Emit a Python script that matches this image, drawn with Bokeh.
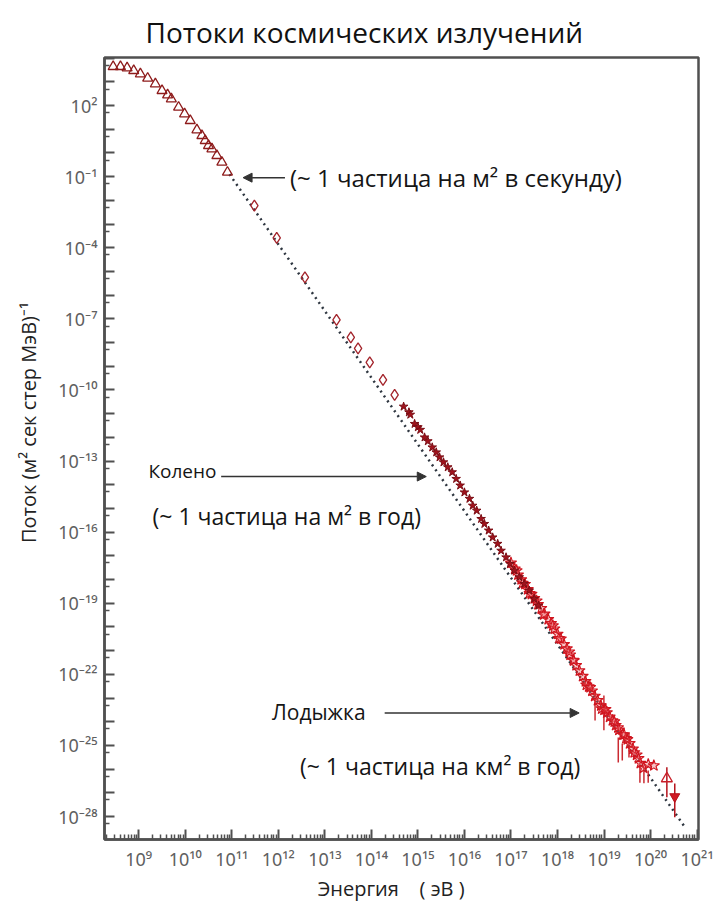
import numpy as np
from bokeh.plotting import figure
from bokeh.models import (Range1d, FixedTicker, CustomJSTickFormatter, Arrow,
                          NormalHead, Label)
from bokeh.embed import file_html
from bokeh.resources import INLINE

# ---- data (log10 of energy in eV, log10 of flux) ----
tri_logE = [8.451, 8.608, 8.751, 8.893, 9.036, 9.193, 9.358, 9.501, 9.621, 9.701, 9.857,
            9.986, 10.108, 10.251, 10.358, 10.429, 10.5, 10.573, 10.68, 10.787, 10.907]
tri_logF = [3.646, 3.646, 3.591, 3.477, 3.338, 3.152, 2.916, 2.633, 2.451, 2.283, 1.928,
            1.65, 1.367, 0.975, 0.734, 0.523, 0.312, 0.173, -0.11, -0.392, -0.814]

dia_logE = [11.486, 11.966, 12.572, 13.251, 13.558, 13.714, 13.965, 14.25, 14.5]
dia_logF = [-2.219, -3.582, -5.245, -7.042, -7.776, -8.241, -8.831, -9.574, -10.207]

star_logE = [14.693, 14.807, 14.837, 14.929, 15.0, 15.051, 15.143, 15.214, 15.308, 15.394,
             15.465, 15.55, 15.642, 15.737, 15.822, 15.908, 16.0, 16.108, 16.178, 16.264,
             16.358, 16.429, 16.521, 16.607, 16.714, 16.787, 16.894, 16.979, 17.072, 17.179,
             17.286, 17.393, 17.5, 17.592]
star_logF = [-10.70, -10.94, -11.04, -11.43, -11.57, -11.68, -12.0, -12.16, -12.42, -12.63,
             -12.84, -13.05, -13.26, -13.47, -13.75, -14.03, -14.32, -14.59, -14.88, -15.09,
             -15.44, -15.65, -15.93, -16.22, -16.49, -16.78, -17.06, -17.34, -17.62, -17.90,
             -18.18, -18.46, -18.81, -19.10]

clu_logE = [17.00, 17.08, 17.15, 17.22, 17.30, 17.36, 17.44, 17.50, 17.58, 17.65, 17.72,
            17.80, 17.86, 17.93, 18.00, 18.07, 18.14, 18.20, 18.27, 18.34, 18.40, 18.47,
            18.54, 18.60, 18.67, 18.74, 18.80, 18.86, 18.93, 19.00, 19.06, 19.12, 19.18,
            19.25, 19.32, 19.40, 19.47, 19.55, 19.62, 19.70, 19.78, 19.85, 19.95, 20.07,
            17.25, 17.55, 17.90, 18.25, 18.62, 18.95, 19.30, 19.50, 19.65,
            17.12, 17.40, 17.70, 18.03, 18.35, 18.70, 19.03, 19.22, 19.43, 19.74]
clu_logF = [-17.30, -17.55, -17.80, -18.00, -18.20, -18.42, -18.62, -18.80, -19.05, -19.22,
            -19.45, -19.68, -19.85, -20.08, -20.30, -20.50, -20.74, -20.92, -21.18, -21.40,
            -21.62, -21.85, -22.08, -22.30, -22.52, -22.70, -22.92, -23.10, -23.32, -23.50,
            -23.62, -23.80, -23.95, -24.15, -24.35, -24.55, -24.70, -24.92, -25.15, -25.40,
            -25.75, -25.95, -25.80, -25.85,
            -18.15, -18.90, -19.95, -21.05, -22.45, -23.45, -24.25, -24.75, -25.30,
            -17.62, -18.58, -19.48, -20.48, -21.42, -22.55, -23.48, -24.00, -24.55, -25.55]

err_logE = [18.807, 18.997, 19.306, 19.392, 19.536, 19.771, 19.857, 19.949]
err_lo = [-23.95, -24.36, -25.72, -25.64, -25.51, -26.57, -26.60, -26.57]
err_hi = [-22.68, -22.89, -24.67, -24.92, -24.50, -25.72, -25.93, -26.06]

up_logE = [20.35]
up_logF = [-26.40]
up_lo = [-27.19]
up_hi = [-25.92]

dn_logE = [20.52]
dn_logF = [-27.16]
dn_lo = [-28.03]
dn_hi = [-26.61]

line_logE = [10.95, 20.76]
line_logF = [-0.895, -28.51]

x_tick_values = [1e9, 1e10, 1e11, 1e12, 1e13, 1e14, 1e15, 1e16, 1e17, 1e18, 1e19, 1e20, 1e21]
x_tick_labels = ["10⁹", "10¹⁰", "10¹¹", "10¹²", "10¹³", "10¹⁴", "10¹⁵", "10¹⁶",
                 "10¹⁷", "10¹⁸", "10¹⁹", "10²⁰", "10²¹"]
y_tick_values = [1e2, 1e-1, 1e-4, 1e-7, 1e-10, 1e-13, 1e-16, 1e-19, 1e-22, 1e-25, 1e-28]
y_tick_labels = ["10²", "10⁻¹", "10⁻⁴", "10⁻⁷", "10⁻¹⁰", "10⁻¹³", "10⁻¹⁶", "10⁻¹⁹",
                 "10⁻²²", "10⁻²⁵", "10⁻²⁸"]

def pw(a):
    return (10.0 ** np.array(a, dtype=float)).tolist()

# ---- figure ----
W, H = 721, 905
p = figure(width=W, height=H, x_axis_type="log", y_axis_type="log",
           x_range=Range1d(10 ** 8.265, 10 ** 21.03),
           y_range=Range1d(10 ** -28.97, 10 ** 4.03),
           output_backend="svg", toolbar_location=None,
           min_border_left=104, min_border_right=W - 698,
           min_border_top=57, min_border_bottom=H - 839)

p.title.text = "Потоки космических излучений"
p.title.align = "left"
p.title.offset = 41
p.title.text_font = "Open Sans"
p.title.text_font_size = "28px"
p.title.text_font_style = "normal"
p.title.text_color = "#111111"
p.title.standoff = 14

p.xgrid.visible = False
p.ygrid.visible = False
p.outline_line_color = "#505050"
p.outline_line_width = 2.5
p.border_fill_color = "white"

fmt_code = """
for (let i = 0; i < vals.length; i++) {
  if (Math.abs(Math.log10(tick) - Math.log10(vals[i])) < 1e-6) { return labs[i]; }
}
return "";
"""

xa = p.xaxis[0]
xa.ticker = FixedTicker(ticks=[10.0 ** n for n in range(8, 22)],
                        minor_ticks=[k * 10.0 ** n for n in range(8, 21) for k in range(2, 10)])
xa.formatter = CustomJSTickFormatter(args=dict(vals=x_tick_values, labs=x_tick_labels), code=fmt_code)

ya = p.yaxis[0]
ya.ticker = FixedTicker(ticks=[10.0 ** n for n in range(-29, 5)],
                        minor_ticks=[5 * 10.0 ** (n - 1) for n in range(-29, 5)])
ya.formatter = CustomJSTickFormatter(args=dict(vals=y_tick_values, labs=y_tick_labels), code=fmt_code)

for ax in (xa, ya):
    ax.axis_line_color = "#505050"
    ax.axis_line_width = 2.5
    ax.major_tick_in = 10
    ax.major_tick_out = 0
    ax.minor_tick_in = 5
    ax.minor_tick_out = 0
    ax.major_tick_line_color = "#505050"
    ax.minor_tick_line_color = "#505050"
    ax.major_tick_line_width = 2
    ax.minor_tick_line_width = 1.5
    ax.major_label_text_font = "Noto Sans"
    ax.major_label_text_font_size = "18px"
    ax.major_label_text_color = "#606060"
    ax.axis_label_text_font = "Open Sans"
    ax.axis_label_text_font_style = "normal"
    ax.axis_label_text_color = "#222222"

nb = "\u00a0"
xa.major_label_standoff = 7
xa.axis_label = "Энергия" + nb * 4 + "(" + nb + "эВ" + nb + ")" + nb * 4
xa.axis_label_text_font_size = "20px"
xa.axis_label_standoff = 1
ya.major_label_standoff = 7
ya.axis_label = nb * 10 + "Поток (м² сек стер МэВ)⁻¹"
ya.axis_label_text_font_size = "20px"
ya.axis_label_standoff = 13

# ---- glyphs ----
p.line(pw(line_logE), pw(line_logF), line_color="#2e3640", line_width=2.5,
       line_dash="2 4")

p.scatter(pw(tri_logE), pw(tri_logF), marker="triangle", size=10, fill_color=None,
          line_color="#8e1b1b", line_width=1.3)
p.scatter(pw(dia_logE), pw(dia_logF), marker="diamond", size=11, fill_color=None,
          line_color="#a3232a", line_width=1.3)

p.segment(pw(err_logE), pw(err_lo), pw(err_logE), pw(err_hi), line_color="#c4141c",
          line_width=1.5, line_alpha=0.9)
p.segment(pw(up_logE), pw(up_lo), pw(up_logE), pw(up_hi), line_color="#b5121b", line_width=1.5)
p.segment(pw(dn_logE), pw(dn_lo), pw(dn_logE), pw(dn_hi), line_color="#b5121b", line_width=1.5)

p.scatter(pw(clu_logE), pw(clu_logF), marker="star", size=12, fill_color="#e8585e",
          fill_alpha=0.35, line_color="#d0151f", line_width=1.1)
p.scatter(pw(star_logE), pw(star_logF), marker="star", size=9, fill_color="#a1121c",
          line_color="#7a0d14", line_width=1)
p.scatter(pw(up_logE), pw(up_logF), marker="triangle", size=11, fill_color=None,
          line_color="#c81e28", line_width=1.4)
p.scatter(pw(dn_logE), pw(dn_logF), marker="inverted_triangle", size=10, fill_color="#d01822",
          line_color="#b5121b", line_width=1)

# ---- annotations ----
def arrow(x0, x1, y):
    p.add_layout(Arrow(x_start=10 ** x0, x_end=10 ** x1, y_start=10 ** y, y_end=10 ** y,
                       line_color="#333333", line_width=1.5,
                       end=NormalHead(size=9, fill_color="#333333", line_color="#333333")))

arrow(12.143, 11.243, -1.04)
arrow(10.772, 15.18, -13.654)
arrow(14.286, 18.465, -23.63)

def label(x, y, text, size):
    p.add_layout(Label(x=10 ** x, y=10 ** y, text=text, text_font="Open Sans",
                       text_font_size=size, text_color="#151515",
                       text_baseline="middle", text_align="left"))

label(12.25, -1.04, "(~ 1 частица на  м² в секунду)", "24px")
label(9.208, -13.40, "Колено", "19px")
label(9.296, -15.30, "(~ 1 частица на  м² в год)", "23px")
label(11.865, -23.61, "Лодыжка", "21px")
label(12.465, -25.85, "(~ 1 частица на км² в год)", "23px")

open("out.html", "w").write(file_html(p, INLINE))
